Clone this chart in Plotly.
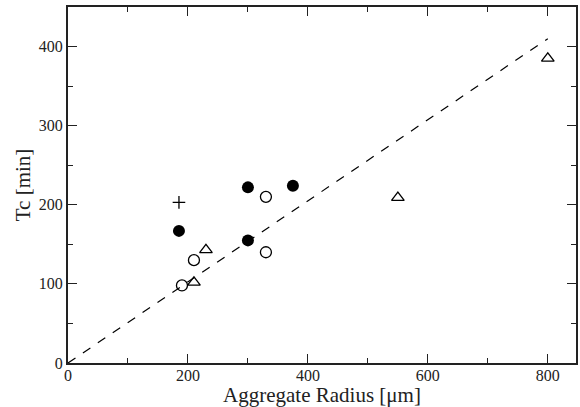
import plotly.graph_objects as go

# data
filled_x = [185, 300, 300, 375]
filled_y = [167, 222, 155, 224]

open_x = [190, 210, 330, 330]
open_y = [98, 130, 210, 140]

tri_x = [210, 230, 550, 800]
tri_y = [102, 143, 209, 385]

plus_x = [185]
plus_y = [203]

fit_x = [0, 800]
fit_y = [0, 410]

fig = go.Figure()

fig.add_trace(go.Scatter(x=fit_x, y=fit_y, mode='lines',
                         line=dict(color='black', width=1.2, dash='dash')))
fig.add_trace(go.Scatter(x=filled_x, y=filled_y, mode='markers',
                         marker=dict(symbol='circle', size=12, color='black')))
fig.add_trace(go.Scatter(x=open_x, y=open_y, mode='markers',
                         marker=dict(symbol='circle-open', size=11, color='black',
                                     line=dict(width=1.3))))
fig.add_trace(go.Scatter(x=tri_x, y=tri_y, mode='markers',
                         marker=dict(symbol='triangle-up-open', size=11, color='black',
                                     line=dict(width=1.3))))
fig.add_trace(go.Scatter(x=plus_x, y=plus_y, mode='markers',
                         marker=dict(symbol='cross-thin-open', size=9, color='black',
                                     line=dict(width=1.3, color='black'))))

axis_style = dict(showline=True, linewidth=2, linecolor='#222', mirror='allticks',
                  ticks='inside', ticklen=9, tickwidth=1.3, tickcolor='#222',
                  showgrid=False, zeroline=False, automargin=False,
                  tickfont=dict(family='Liberation Serif', size=16, color='#222'))

fig.update_xaxes(range=[0, 847], tick0=0, dtick=200, ticklabelstandoff=-3,
                 minor=dict(dtick=100, ticks='inside', ticklen=5, tickwidth=1.3, tickcolor='#222'),
                 title=dict(text='Aggregate Radius [μm]', standoff=2,
                            font=dict(family='Liberation Serif', size=21, color='#222')),
                 **axis_style)
fig.update_yaxes(range=[0, 450], tick0=0, dtick=100,
                 minor=dict(dtick=50, ticks='inside', ticklen=5, tickwidth=1.3, tickcolor='#222'),
                 title=dict(text='Tc [min]', standoff=2,
                            font=dict(family='Liberation Serif', size=21, color='#222')),
                 **axis_style)

fig.update_layout(width=580, height=407, showlegend=False,
                  font=dict(family='Liberation Serif', color='#222'),
                  plot_bgcolor='white', paper_bgcolor='white',
                  margin=dict(l=68, r=4, t=7, b=44))

# the page's default body margin would shift the figure
fig.write_html("out.html", config={'displayModeBar': False},
               post_script="document.body.style.margin='0';")
